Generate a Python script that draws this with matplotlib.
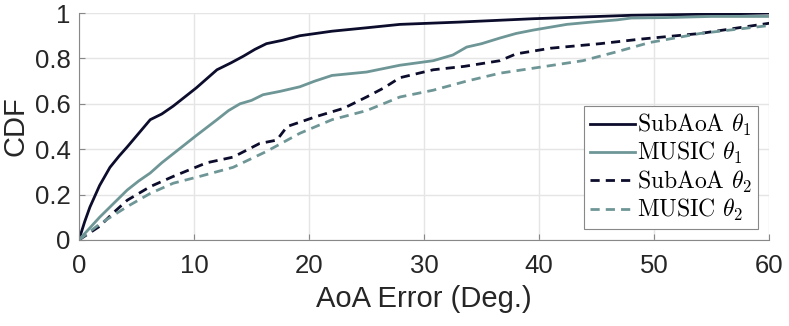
import matplotlib
matplotlib.use('Agg')
import matplotlib.pyplot as plt

# AoA error (deg) vs. CDF
sub1_x = [0, 0.5, 0.96, 1.8, 2.7, 3.5, 4.2, 5.2, 6.2, 7.2, 8.2, 9.2, 10.2, 11.1, 12, 13.2, 14.3, 15.3, 16.3, 17.7, 19.2, 22, 25, 27.9, 33, 39.5, 48, 55, 60]
sub1_y = [0, 0.08, 0.145, 0.24, 0.32, 0.37, 0.41, 0.47, 0.53, 0.555, 0.59, 0.63, 0.67, 0.71, 0.75, 0.78, 0.81, 0.84, 0.865, 0.88, 0.90, 0.92, 0.935, 0.95, 0.96, 0.975, 0.99, 0.995, 1.0]

mus1_x = [0, 1.8, 3, 4.2, 5.2, 6.2, 7.2, 8.2, 9.2, 10.2, 11.1, 12, 13, 14, 15, 16, 17.5, 19.2, 20.5, 22, 25, 27.9, 30.8, 32.5, 33.7, 35, 36.6, 38, 39.5, 42.4, 44.5, 46.8, 48, 51, 55, 60]
mus1_y = [0, 0.10, 0.16, 0.22, 0.26, 0.295, 0.34, 0.38, 0.42, 0.46, 0.495, 0.53, 0.57, 0.60, 0.615, 0.64, 0.655, 0.675, 0.70, 0.725, 0.74, 0.77, 0.79, 0.815, 0.85, 0.865, 0.89, 0.91, 0.925, 0.95, 0.96, 0.97, 0.978, 0.98, 0.985, 0.985]

sub2_x = [0, 1.8, 3, 4.2, 6.2, 8.2, 11.1, 13.4, 15.7, 17.2, 18.1, 20.7, 23, 25, 26.5, 27.9, 30.8, 33.5, 36.6, 38, 41, 45.3, 48.8, 54, 60]
sub2_y = [0, 0.06, 0.12, 0.175, 0.235, 0.28, 0.34, 0.365, 0.425, 0.44, 0.50, 0.545, 0.58, 0.63, 0.67, 0.715, 0.75, 0.765, 0.79, 0.82, 0.845, 0.865, 0.885, 0.91, 0.955]

mus2_x = [0, 1.8, 4.2, 6.2, 8.2, 10.5, 13.4, 16.3, 19.2, 22, 25, 27.9, 30.8, 33.7, 36.6, 39.5, 43.8, 46.8, 49.6, 54, 60]
mus2_y = [0, 0.07, 0.147, 0.205, 0.25, 0.28, 0.32, 0.39, 0.47, 0.53, 0.57, 0.63, 0.66, 0.70, 0.735, 0.757, 0.79, 0.83, 0.87, 0.91, 0.945]

labels = [r'SubAoA $\theta_1$', r'MUSIC $\theta_1$', r'SubAoA $\theta_2$', r'MUSIC $\theta_2$']

dark = '#0c0c2c'
teal = '#6f9696'

plt.rcParams['mathtext.fontset'] = 'cm'
plt.rcParams['font.family'] = 'Liberation Sans'

fig = plt.figure(figsize=(7.89, 3.26), dpi=100)
ax = fig.add_axes([0.100, 0.264, 0.875, 0.696])

dash = (0, (3.3, 2.2))
ax.plot(sub1_x, sub1_y, color=dark, lw=2)
ax.plot(mus1_x, mus1_y, color=teal, lw=2)
ax.plot(sub2_x, sub2_y, color=dark, lw=2, ls=dash)
ax.plot(mus2_x, mus2_y, color=teal, lw=2, ls=dash)

ax.set_xlim(0, 60)
ax.set_ylim(0, 1)
ax.set_xticks([0, 10, 20, 30, 40, 50, 60])
ax.set_yticks([0, 0.2, 0.4, 0.6, 0.8, 1])
ax.set_yticklabels(['0', '0.2', '0.4', '0.6', '0.8', '1'])
ax.grid(True, color='#e5e5e5', lw=1)
ax.set_axisbelow(True)
for s in ['top', 'right']:
    ax.spines[s].set_visible(False)
for s in ['left', 'bottom']:
    ax.spines[s].set_color('#888888')
ax.tick_params(direction='in', length=4, color='#888888', labelsize=18.5, labelcolor='#262626')
ax.tick_params(axis='x', pad=10)
ax.tick_params(axis='y', pad=6)
ax.set_xlabel('AoA Error (Deg.)', fontsize=21, color='#262626', labelpad=5)
ax.set_ylabel('CDF', fontsize=21, color='#262626', labelpad=4)

leg = ax.legend(labels, loc='lower right', bbox_to_anchor=(0.984, 0.048), fancybox=False,
                edgecolor='#888888', framealpha=1, handlelength=1.9, handletextpad=0.1,
                borderpad=0.25, borderaxespad=0, labelspacing=0.1,
                prop={'family': 'cmr10', 'size': 17})
leg.get_frame().set_linewidth(0.8)

plt.savefig('out.png', dpi=100)
